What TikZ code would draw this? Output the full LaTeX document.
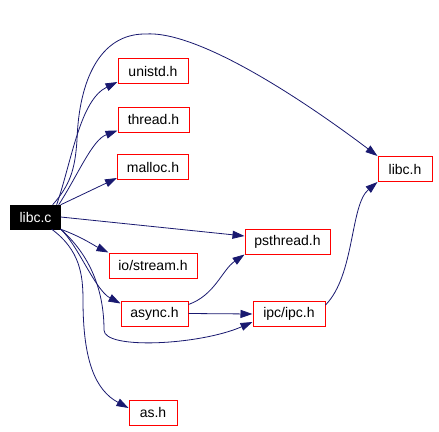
\documentclass[tikz,border=0pt]{standalone}
\usepackage{fontspec}
\setmainfont{Liberation Sans}
\usetikzlibrary{arrows.meta}
\definecolor{edgeblue}{HTML}{191970}
\definecolor{boxred}{HTML}{FF0000}
\tikzset{
  srcfile/.style={
    rectangle, fill=black, draw=black, text=white,
    minimum height=24pt, inner xsep=9pt, inner ysep=0pt,
    font=\fontsize{14}{16}\selectfont,
  },
  header/.style={
    rectangle, draw=boxred, line width=1pt, fill=white,
    minimum height=25pt, inner xsep=9pt, inner ysep=0pt,
    font=\fontsize{14}{16}\selectfont,
  },
  incl/.style={-{Triangle[length=12pt,width=8pt]}, line width=0.8pt, color=edgeblue},
}
\begin{document}
\begin{tikzpicture}[x=1pt,y=-1pt]
  \useasboundingbox[fill=white] (0,0) rectangle (439,431);

  % files
  \node[srcfile] (libcc) at (35.5,217) {libc.c};
  \node[header, minimum width=70pt] (unistd) at (153,71) {unistd.h};
  \node[header, minimum width=71pt] (thread) at (153.5,119.5) {thread.h};
  \node[header, minimum width=71pt] (malloc) at (153,167) {malloc.h};
  \node[header, minimum width=88pt] (stream) at (153,265.5) {io/stream.h};
  \node[header, minimum width=67pt] (async) at (154.5,313.5) {async.h};
  \node[header, minimum width=48pt] (ash) at (153,412.5) {as.h};
  \node[header, minimum width=85pt] (psthread) at (287.5,241.5) {psthread.h};
  \node[header, minimum width=72pt] (ipc) at (289,314) {ipc/ipc.h};
  \node[header, minimum width=54pt] (libch) at (405,169) {libc.h};

  % includes of libc.c
  \draw[incl] ([xshift=-8pt]libcc.north east) .. controls (70,185) and (75,170) .. (77,140)
    .. controls (79,80) and (100,34) .. (145,34)
    .. controls (200,30) and (310,105) .. (libch.north west);
  \draw[incl] ([xshift=-4pt]libcc.north east) .. controls (72,160) and (80,100) .. ([yshift=2pt]unistd.south west);
  \draw[incl] ([xshift=-2pt]libcc.north east) .. controls (78,175) and (92,140) .. ([yshift=2pt]thread.south west);
  \draw[incl] (libcc.north east) -- ([yshift=2pt]malloc.south west);
  \draw[incl] (libcc.east) -- ([yshift=5.5pt]psthread.west);
  \draw[incl] (libcc.south east) .. controls (82,237) and (95,246) .. (stream.north west);
  \draw[incl] (libcc.south east) .. controls (78,245) and (95,290) .. ([yshift=-3pt]async.north west);
  \draw[incl] (libcc.south east) .. controls (90,255) and (104,290) .. (104,330)
    .. controls (104,350) and (200,345) .. ([yshift=-8pt]ipc.west);
  \draw[incl] ([xshift=-9pt]libcc.south east) .. controls (80,250) and (83,275) .. (83,300)
    .. controls (83,360) and (95,390) .. ([yshift=4.5pt]ash.west);

  % other includes
  \draw[incl] ([yshift=-4pt]async.north east) .. controls (215,295) and (222,270) .. (psthread.south west);
  \draw[incl] (async.east) -- (ipc.west);
  \draw[incl] ([yshift=-4pt]ipc.north east) .. controls (355,275) and (350,205) .. (libch.south west);

\end{tikzpicture}
\end{document}
